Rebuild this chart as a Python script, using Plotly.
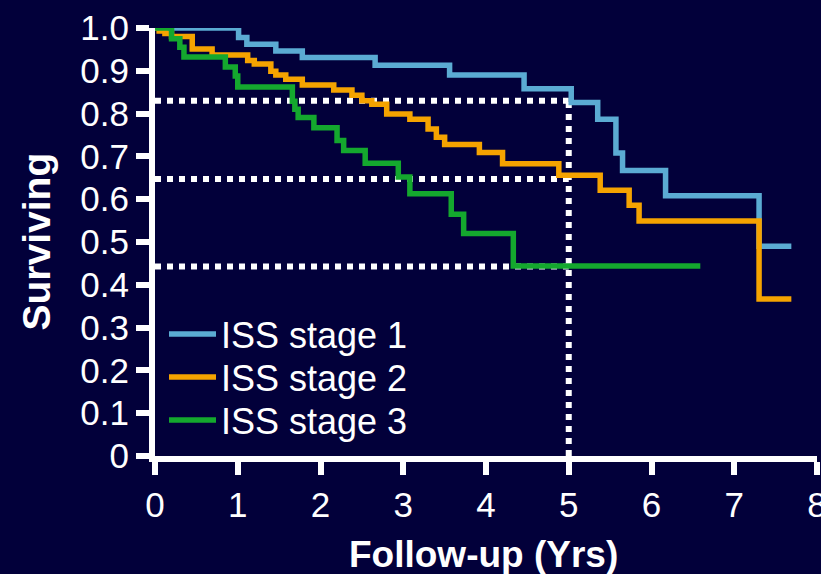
import plotly.graph_objects as go

# Kaplan-Meier step data: event times (years) and survival after each event
stage1_t = [0, 1.01, 1.11, 1.46, 1.78, 2.66, 3.56, 4.46, 5.03, 5.35, 5.57, 5.65, 6.17, 7.30, 7.69]
stage1_s = [1.0, 0.978, 0.962, 0.946, 0.931, 0.913, 0.89, 0.858, 0.826, 0.787, 0.708, 0.667, 0.608, 0.49, 0.49]

stage2_t = [0, 0.05, 0.12, 0.2, 0.45, 0.69, 1.12, 1.2, 1.40, 1.46, 1.58, 1.78, 2.16, 2.38, 2.5,
            2.62, 2.80, 3.08, 3.30, 3.40, 3.50, 3.92, 4.20, 4.88, 5.38, 5.73, 5.85, 7.30, 7.69]
stage2_s = [1.0, 0.993, 0.987, 0.98, 0.951, 0.937, 0.924, 0.916, 0.899, 0.89, 0.88, 0.867, 0.855, 0.843, 0.83,
            0.822, 0.799, 0.787, 0.764, 0.745, 0.728, 0.709, 0.683, 0.656, 0.621, 0.586, 0.549, 0.367, 0.367]

stage3_t = [0, 0.2, 0.3, 0.35, 0.85, 0.97, 1.0, 1.66, 1.69, 1.73, 1.92, 2.2, 2.28, 2.54, 2.94,
            3.08, 3.58, 3.73, 4.33, 6.59]
stage3_s = [1.0, 0.975, 0.955, 0.932, 0.909, 0.888, 0.862, 0.829, 0.81, 0.791, 0.767, 0.737, 0.714, 0.684, 0.652,
            0.613, 0.565, 0.52, 0.444, 0.444]

# 5-year survival reference levels
landmark_year = 5
landmark_surv = [0.83, 0.647, 0.443]

names = ["ISS stage 1", "ISS stage 2", "ISS stage 3"]
colors = ["#5BABD3", "#F5A300", "#14A82E"]

x_ticks = [0, 1, 2, 3, 4, 5, 6, 7, 8]
y_ticks = [0, 0.1, 0.2, 0.3, 0.4, 0.5, 0.6, 0.7, 0.8, 0.9, 1.0]
y_tick_text = ["0", "0.1", "0.2", "0.3", "0.4", "0.5", "0.6", "0.7", "0.8", "0.9", "1.0"]

BG = "#02003A"
FONT = "Liberation Sans, Arial, sans-serif"

fig = go.Figure()

# dotted guide lines at the 5-year mark
for v in landmark_surv:
    fig.add_trace(go.Scatter(
        x=[0, landmark_year], y=[v, v], mode="lines",
        line=dict(color="white", width=6, dash="dot"),
        showlegend=False, hoverinfo="skip", cliponaxis=False))
fig.add_trace(go.Scatter(
    x=[landmark_year, landmark_year], y=[0, max(landmark_surv)], mode="lines",
    line=dict(color="white", width=6, dash="dot"),
    showlegend=False, hoverinfo="skip", cliponaxis=False))

# one legend per stage so the rows can be spaced freely
legend_ids = ["legend", "legend2", "legend3"]
legend_y = [0.285, 0.1846, 0.0841]

for t, s, n, c, lg in zip([stage1_t, stage2_t, stage3_t], [stage1_s, stage2_s, stage3_s],
                          names, colors, legend_ids):
    fig.add_trace(go.Scatter(
        x=t, y=s, mode="lines", name=n, legend=lg,
        line=dict(color=c, width=5.5, shape="hv"),
        cliponaxis=False))

legend_common = dict(
    x=0.0136, xanchor="left", yanchor="middle",
    bgcolor="rgba(0,0,0,0)", font=dict(size=36, color="white"),
    itemwidth=47)

fig.update_layout(
    width=821, height=574,
    paper_bgcolor=BG, plot_bgcolor=BG,
    margin=dict(l=155, r=4, t=28, b=118, autoexpand=False),
    font=dict(family=FONT, color="white", size=35),
    legend=dict(y=legend_y[0], **legend_common),
    legend2=dict(y=legend_y[1], **legend_common),
    legend3=dict(y=legend_y[2], **legend_common),
    xaxis=dict(
        range=[0, 8], tickvals=x_ticks, showgrid=False, zeroline=False,
        showline=True, linewidth=6, linecolor="white",
        ticks="outside", ticklen=13, tickwidth=6, tickcolor="white",
        ticklabeloverflow="allow", automargin=False,
        tickfont=dict(size=35, color="white")),
    yaxis=dict(
        range=[0, 1.0], tickvals=y_ticks, ticktext=y_tick_text, showgrid=False, zeroline=False,
        showline=True, linewidth=6, linecolor="white",
        ticks="outside", ticklen=13, tickwidth=6, tickcolor="white",
        automargin=False,
        tickfont=dict(size=35, color="white")),
    annotations=[
        dict(text="<b>Follow-up (Yrs)</b>", xref="paper", yref="paper",
             x=0.4955, y=-0.231, xanchor="center", yanchor="middle", showarrow=False,
             font=dict(size=37, color="white")),
        dict(text="<b>Surviving</b>", xref="paper", yref="paper",
             x=-0.1805, y=0.5, xanchor="center", yanchor="middle", showarrow=False,
             textangle=-90, font=dict(size=39, color="white")),
    ],
)

fig.write_html("out.html")
